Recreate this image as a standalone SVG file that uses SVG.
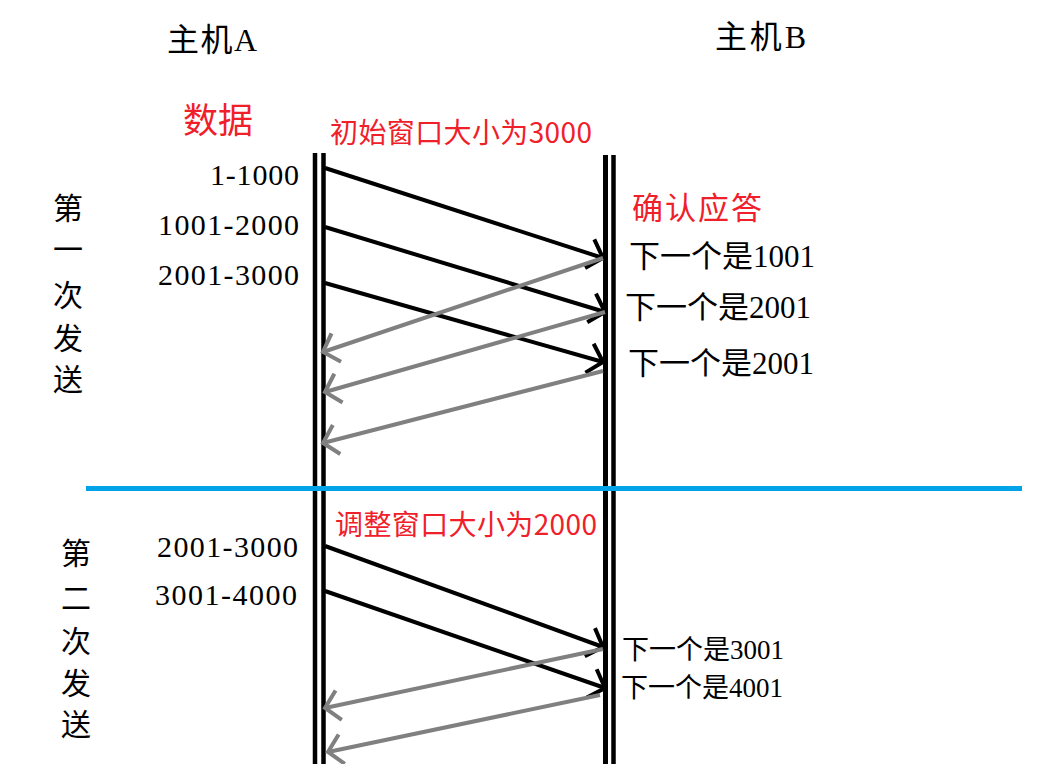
<svg xmlns="http://www.w3.org/2000/svg" width="1054" height="764" viewBox="0 0 1054 764">
<defs>
<style>
.t{font-family:"Liberation Serif","Noto Sans CJK SC",serif;fill:#000}
.r{font-family:"Noto Sans CJK SC","Liberation Sans",sans-serif;fill:#f0202a;font-weight:400}
.rail{stroke:#000;fill:none}
.blk{stroke:#000;stroke-width:4;fill:none;marker-end:url(#ab)}
.gry{stroke:#808080;stroke-width:4;fill:none;marker-end:url(#ag)}
</style>
<marker id="ab" markerUnits="userSpaceOnUse" viewBox="-20 -20 24 40" markerWidth="24" markerHeight="40" refX="0" refY="0" orient="auto">
<path d="M-14,-15 L0,0 L-14,15" stroke="#000" stroke-width="4" fill="none"/>
</marker>
<marker id="ag" markerUnits="userSpaceOnUse" viewBox="-20 -20 24 40" markerWidth="24" markerHeight="40" refX="0" refY="0" orient="auto">
<path d="M-14,-15 L0,0 L-14,15" stroke="#808080" stroke-width="4" fill="none"/>
</marker>
</defs>
<rect width="1054" height="764" fill="#fff"/>

<g id="hostA">
<line class="rail" x1="315" y1="153" x2="315" y2="764" stroke-width="4.5"/>
<line class="rail" x1="323.5" y1="153" x2="323.5" y2="764" stroke-width="4.5"/>
<text class="t" x="167" y="51" font-size="32" textLength="90" lengthAdjust="spacing">主机A</text>
</g>
<g id="hostB">
<line class="rail" x1="605.5" y1="155" x2="605.5" y2="764" stroke-width="5"/>
<line class="rail" x1="613.5" y1="155" x2="613.5" y2="764" stroke-width="4.5"/>
<text class="t" x="715" y="48" font-size="32" textLength="91" lengthAdjust="spacing">主机B</text>
</g>

<g id="divider">
<line x1="86" y1="488.5" x2="1022" y2="488.5" stroke="#00a2e8" stroke-width="5"/>
</g>

<g id="labels-round1">
<text class="r" x="183" y="133" font-size="35">数据</text>
<text class="r" x="330" y="143" font-size="28" textLength="262" lengthAdjust="spacing">初始窗口大小为3000</text>
<text class="r" x="632" y="219" font-size="31" textLength="130" lengthAdjust="spacing">确认应答</text>
<g class="t" font-size="30">
<text x="210" y="185" textLength="89" lengthAdjust="spacing">1-1000</text>
<text x="158" y="235" textLength="141" lengthAdjust="spacing">1001-2000</text>
<text x="158" y="285" textLength="141" lengthAdjust="spacing">2001-3000</text>
</g>
<g class="t" font-size="31">
<text x="629" y="267">下一个是1001</text>
<text x="625" y="318">下一个是2001</text>
<text x="628" y="374">下一个是2001</text>
</g>
<g class="t" font-size="30" text-anchor="middle">
<text x="68" y="219">第</text>
<text x="68" y="260">一</text>
<text x="68" y="306">次</text>
<text x="68" y="349">发</text>
<text x="68" y="390">送</text>
</g>
</g>

<g id="labels-round2">
<text class="r" x="335" y="535" font-size="28" textLength="262" lengthAdjust="spacing">调整窗口大小为2000</text>
<g class="t" font-size="30">
<text x="157" y="557" textLength="141" lengthAdjust="spacing">2001-3000</text>
<text x="155" y="605" textLength="142" lengthAdjust="spacing">3001-4000</text>
</g>
<g class="t" font-size="27">
<text x="622" y="659">下一个是3001</text>
<text x="621" y="697">下一个是4001</text>
</g>
<g class="t" font-size="30" text-anchor="middle">
<text x="76" y="564">第</text>
<text x="76" y="609">二</text>
<text x="76" y="652">次</text>
<text x="76" y="694">发</text>
<text x="76" y="735">送</text>
</g>
</g>

<g id="connectors">
<line class="blk" x1="325" y1="168" x2="603" y2="258"/>
<line class="blk" x1="325" y1="227" x2="605" y2="312"/>
<line class="blk" x1="325" y1="283" x2="603" y2="362"/>
<line class="gry" x1="603" y1="258" x2="323" y2="352"/>
<line class="gry" x1="605" y1="312" x2="325" y2="392"/>
<line class="gry" x1="603" y1="371" x2="323" y2="443"/>
<line class="blk" x1="325" y1="546" x2="603" y2="647"/>
<line class="blk" x1="325" y1="591" x2="605" y2="688"/>
<line class="gry" x1="603" y1="649" x2="325" y2="708"/>
<line class="gry" x1="600" y1="695" x2="328" y2="752"/>
</g>
</svg>
